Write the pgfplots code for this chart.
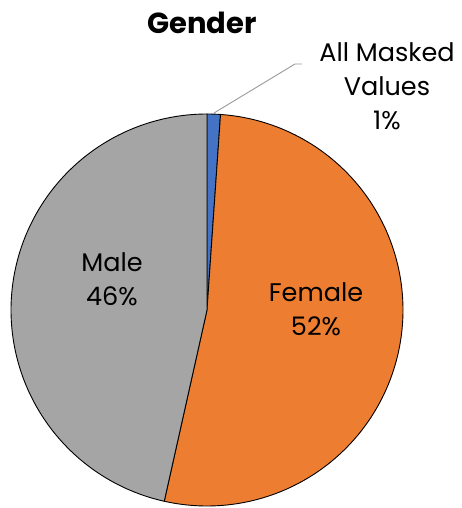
\documentclass[border=0pt]{standalone}
\usepackage{fontspec}
\setmainfont{Poppins}
\usepackage{pgfplots}
\pgfplotsset{compat=1.18}

\definecolor{cblue}{HTML}{4472C4}
\definecolor{corange}{HTML}{ED7D31}
\definecolor{cgray}{HTML}{A5A5A5}

% shares in percent
\def\vmasked{1.1}
\def\vfemale{52.4}
\def\vmale{46.5}

\begin{document}
\begin{tikzpicture}
\pgfmathsetmacro{\aA}{90}
\pgfmathsetmacro{\aB}{90-3.6*\vmasked}
\pgfmathsetmacro{\aC}{\aB-3.6*\vfemale}
\pgfmathsetmacro{\aD}{\aC-3.6*\vmale}
\begin{axis}[
    width=461pt, height=508pt, scale only axis,
    xmin=0, xmax=461, ymin=0, ymax=508,
    hide axis, clip=false,
]
% keep the full canvas as bounding box
\path (rel axis cs:0,0) rectangle (rel axis cs:1,1);
% slices (center 207,198 radius 196), clockwise from 12 o'clock
\addplot[fill=cblue, draw=black, line width=0.9pt, domain=\aB:\aA, samples=10, variable=\t]
    ({207+196*cos(\t)},{198+196*sin(\t)}) -- (axis cs:207,198) -- cycle;
\addplot[fill=corange, draw=black, line width=0.9pt, domain=\aC:\aB, samples=150, variable=\t]
    ({207+196*cos(\t)},{198+196*sin(\t)}) -- (axis cs:207,198) -- cycle;
\addplot[fill=cgray, draw=black, line width=0.9pt, domain=\aD:\aC, samples=150, variable=\t]
    ({207+196*cos(\t)},{198+196*sin(\t)}) -- (axis cs:207,198) -- cycle;

% leader line
\draw[black!40, line width=0.9pt] (axis cs:214,395) -- (axis cs:295,444) -- (axis cs:302,444);

% labels
\node[font=\fontsize{25.5}{34}\selectfont, align=center] at (axis cs:387,422) {All Masked\\Values\\1\%};
\node[font=\fontsize{25.5}{34}\selectfont, align=center] at (axis cs:112,229) {Male\\46\%};
\node[font=\fontsize{25.5}{34}\selectfont, align=center] at (axis cs:316,199) {Female\\52\%};
\node[font=\fontsize{29}{32}\selectfont\bfseries] at (axis cs:202,485) {Gender};
\end{axis}
\end{tikzpicture}
\end{document}
